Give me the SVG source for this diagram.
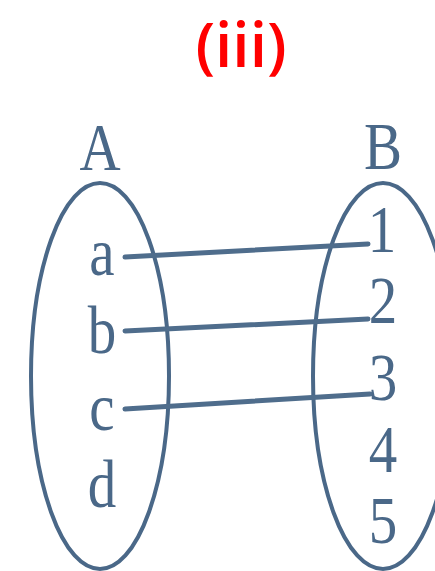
<svg xmlns="http://www.w3.org/2000/svg" width="435" height="571" viewBox="0 0 435 571">
<style>
.set{fill:none;stroke:#4a6888;stroke-width:4}
.lbl{font-family:"Liberation Serif","Times New Roman",serif;font-size:57px;fill:#4a6888;text-anchor:middle}
.ln{stroke:#4f6d8c;stroke-width:5;stroke-linecap:round;fill:none}
.title{font-family:"Open Sans","Liberation Sans",Arial,sans-serif;font-weight:600;font-size:62px;fill:#ff0000;text-anchor:middle}
</style>
<rect width="435" height="571" fill="#ffffff"/>
<text class="title" x="241" y="67">(iii)</text>
<g id="setA">
<ellipse class="set" cx="100" cy="376" rx="69" ry="193"/>
<text class="lbl" transform="translate(100,170) scale(1,1.2)">A</text>
<text class="lbl" transform="translate(102,275) scale(1,1.2)">a</text>
<text class="lbl" transform="translate(102,353) scale(1,1.2)">b</text>
<text class="lbl" transform="translate(102,430) scale(1,1.2)">c</text>
<text class="lbl" transform="translate(102,507) scale(1,1.2)">d</text>
</g>
<g id="setB">
<ellipse class="set" cx="383" cy="376" rx="70" ry="193"/>
<text class="lbl" transform="translate(383,169) scale(1,1.2)">B</text>
<text class="lbl" transform="translate(382,252) scale(1,1.2)">1</text>
<text class="lbl" transform="translate(383,323) scale(1,1.2)">2</text>
<text class="lbl" transform="translate(383,400) scale(1,1.2)">3</text>
<text class="lbl" transform="translate(383,472) scale(1,1.2)">4</text>
<text class="lbl" transform="translate(383,543) scale(1,1.2)">5</text>
</g>
<g id="connectors">
<line class="ln" x1="125" y1="257" x2="368" y2="244"/>
<line class="ln" x1="125" y1="331" x2="368" y2="319"/>
<line class="ln" x1="125" y1="409" x2="370" y2="394"/>
</g>
</svg>
